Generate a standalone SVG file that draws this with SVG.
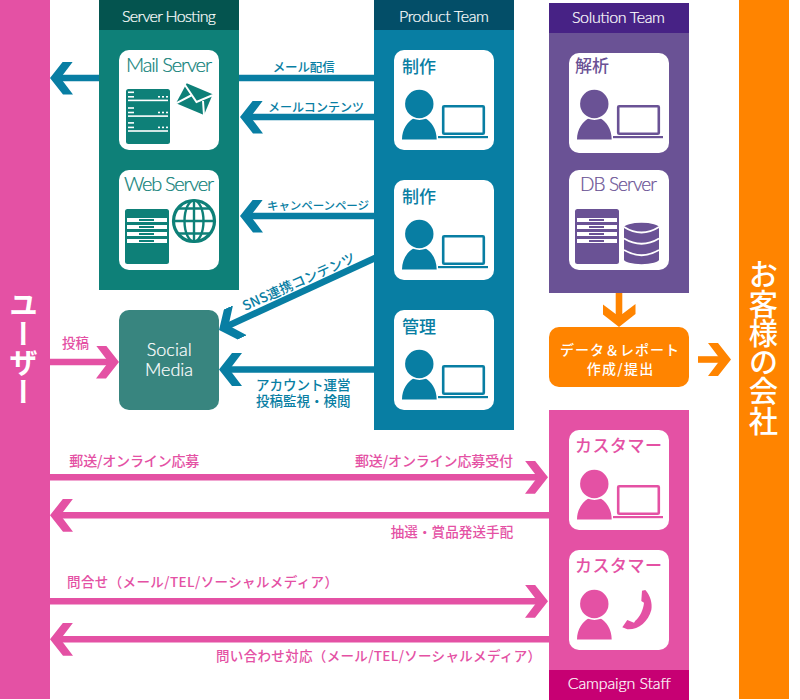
<svg xmlns="http://www.w3.org/2000/svg" width="800" height="700" viewBox="0 0 800 700">
  <style>
    text { font-family: "Noto Sans CJK JP", "Noto Sans", sans-serif; font-weight: 500; }
    .en { font-family: Lato, "Noto Sans", sans-serif; font-weight: 300; stroke: currentColor; stroke-width: 0.22px; }
    .head { font-size: 16px; fill: #fff; color: #fff; }
    .cap { font-size: 20px; }
    .job { font-size: 17px; }
    .lab { font-size: 12px; }
    .lab-lg { font-size: 13.5px; }
    .white { fill: #fff; color: #fff; }
    .card { fill: #fff; }
    .blue { color: #087ea3; fill: #087ea3; }
    .teal { color: #0e8078; fill: #0e8078; }
    .purple { color: #6a5295; fill: #6a5295; }
    .pink { color: #e451a4; fill: #e451a4; }
    .orange { color: #ff8400; fill: #ff8400; }
    .wire { stroke-width: 6.6; fill: none; }
    .wire-blue { stroke: #087ea3; marker-end: url(#tip-blue); }
    .wire-pink { stroke: #e451a4; marker-end: url(#tip-pink); }
    .wire-orange { stroke: #ff8400; marker-end: url(#tip-orange); }
  </style>
  <defs>
    <marker id="tip-blue" viewBox="0 0 24 33" refX="14" refY="16.5" markerWidth="24" markerHeight="33" markerUnits="userSpaceOnUse" orient="auto">
      <path d="M24,16.5 11,33H1L13.5,16.5 1,0H11Z" fill="#087ea3"/>
    </marker>
    <marker id="tip-pink" viewBox="0 0 24 33" refX="14" refY="16.5" markerWidth="24" markerHeight="33" markerUnits="userSpaceOnUse" orient="auto">
      <path d="M24,16.5 11,33H1L13.5,16.5 1,0H11Z" fill="#e451a4"/>
    </marker>
    <marker id="tip-orange" viewBox="0 0 24 33" refX="14" refY="16.5" markerWidth="24" markerHeight="33" markerUnits="userSpaceOnUse" orient="auto">
      <path d="M24,16.5 11,33H1L13.5,16.5 1,0H11Z" fill="#ff8400"/>
    </marker>
    <!-- Figure seen from the front, drawn relative to its card corner -->
    <g id="person">
      <circle cx="25.3" cy="54" r="14.2" fill="currentColor"/>
      <path d="M8,89.5C8,79 14,71.500 19,68.800Q25.300,71 32,68.800C37,71.500 42.700,79 42.700,89.500Z" fill="currentColor"/>
    </g>
    <g id="laptop">
      <rect x="49.2" y="56.2" width="40.6" height="27.6" rx="1" fill="none" stroke="currentColor" stroke-width="2.6"/>
      <rect x="44" y="86" width="50" height="2.2" fill="currentColor"/>
    </g>
    <!-- Rack with four drive bays -->
    <g id="rack">
      <rect x="0" y="0" width="44" height="55" rx="2.5" fill="currentColor"/>
      <g fill="#fff">
        <rect x="2" y="9" width="40" height="4"/>
        <rect x="2" y="16" width="40" height="4"/>
        <rect x="2" y="23" width="40" height="4"/>
        <rect x="2" y="30" width="40" height="4"/>
      </g>
      <g fill="currentColor">
        <rect x="14" y="10" width="15" height="2"/>
        <rect x="14" y="17" width="15" height="2"/>
        <rect x="14" y="24" width="15" height="2"/>
        <rect x="14" y="31" width="15" height="2"/>
      </g>
    </g>
    <g id="server-row" fill="#fff">
      <rect x="128" y="91.5" width="6" height="1.6"/>
      <rect x="128" y="96" width="6" height="1.6"/>
      <rect x="158" y="96" width="2" height="1.6"/>
      <rect x="162" y="96" width="2" height="1.6"/>
      <rect x="166" y="96" width="2" height="1.6"/>
      <rect x="128" y="99.6" width="40" height="1.6"/>
    </g>
  </defs>

  <g id="connectors">
    <line class="wire wire-blue" x1="380" y1="78" x2="60" y2="78"/>
    <line class="wire wire-blue" x1="380" y1="117" x2="250" y2="117"/>
    <line class="wire wire-blue" x1="380" y1="216" x2="250" y2="216"/>
    <line class="wire wire-blue" x1="380" y1="255.7" x2="228.1" y2="325.8"/>
    <line class="wire wire-blue" x1="380" y1="369.5" x2="229" y2="369.5"/>
    <line class="wire wire-pink" x1="45" y1="362" x2="109" y2="362"/>
    <line class="wire wire-orange" x1="619" y1="290" x2="619" y2="317"/>
    <line class="wire wire-orange" x1="698" y1="359.5" x2="721" y2="359.5"/>
    <line class="wire wire-pink" x1="45" y1="477.3" x2="538" y2="477.3"/>
    <line class="wire wire-pink" x1="555" y1="515.3" x2="60" y2="515.3"/>
    <line class="wire wire-pink" x1="45" y1="601.3" x2="538" y2="601.3"/>
    <line class="wire wire-pink" x1="555" y1="639.3" x2="60" y2="639.3"/>
  </g>

  <g id="connector-labels">
    <text class="lab blue" x="272.7" y="71.5" textLength="62" style="font-size:12.5px">メール配信</text>
    <text class="lab blue" x="268" y="111.5" textLength="96">メールコンテンツ</text>
    <text class="lab blue" x="267" y="210" textLength="102" style="font-size:11.5px">キャンペーンページ</text>
    <text class="lab blue" transform="translate(245 311) rotate(-24)" textLength="122" style="font-size:13.5px">SNS連携コンテンツ</text>
    <text class="lab-lg blue"><tspan x="256" y="390">アカウント運営</tspan><tspan x="256" y="406">投稿監視・検閲</tspan></text>
    <text class="lab-lg pink" x="62" y="347.5" textLength="27">投稿</text>
    <text class="lab-lg pink" x="69.3" y="465.7" textLength="130" style="font-size:14px">郵送/オンライン応募</text>
    <text class="lab-lg pink" x="355" y="465.7" textLength="158" style="font-size:14px">郵送/オンライン応募受付</text>
    <text class="lab-lg pink" x="390.7" y="537" textLength="122.5">抽選・賞品発送手配</text>
    <text class="lab-lg pink" x="67" y="586.7" textLength="271">問合せ（メール/TEL/ソーシャルメディア）</text>
    <text class="lab-lg pink" x="216" y="660.7" textLength="325">問い合わせ対応（メール/TEL/ソーシャルメディア）</text>
  </g>

  <g id="users">
    <rect x="0" y="0" width="50" height="699" class="pink"/>
    <text x="23.5" y="290" class="white" font-size="29" style="writing-mode: vertical-rl; font-weight: 700">ユーザー</text>
  </g>

  <g id="server-hosting">
    <rect x="99" y="0" width="140" height="290" class="teal"/>
    <rect x="99" y="0" width="140" height="30" fill="#04544f"/>
    <text class="en head" x="122" y="22" textLength="94">Server Hosting</text>
  </g>

  <g id="mail-server">
    <rect class="card" x="119" y="50" width="100" height="100" rx="10"/>
    <text class="en cap teal" x="126" y="72" textLength="86">Mail Server</text>
    <rect x="126" y="89" width="44" height="55" rx="2.5" class="teal"/>
    <use href="#server-row"/>
    <use href="#server-row" y="15.7"/>
    <use href="#server-row" y="30.6"/>
    <path d="M186.7,83.3 212.7,94.3 204,115 176,103.3Z" class="teal"/>
    <path d="M185,85 196.5,102 213,95M176,103.3 192,95M204,115 203,101" fill="none" stroke="#fff" stroke-width="2"/>
  </g>

  <g id="web-server">
    <rect class="card" x="119" y="170" width="100" height="100" rx="10"/>
    <text class="en cap teal" x="124" y="191" textLength="90">Web Server</text>
    <use href="#rack" x="125" y="209" class="teal"/>
    <g fill="none" stroke="#0e8078" stroke-width="2.4">
      <circle cx="194" cy="221" r="20.5" stroke-width="3.2"/>
      <ellipse cx="194" cy="221" rx="9.5" ry="20.5"/>
      <line x1="194" y1="200" x2="194" y2="242"/>
      <line x1="173" y1="221" x2="215" y2="221"/>
      <path d="M178,208.5H210M178,233.5H210"/>
    </g>
  </g>

  <g id="product-team">
    <rect x="374" y="0" width="140" height="430" class="blue"/>
    <rect x="374" y="0" width="140" height="30" fill="#034e68"/>
    <text class="en head" x="399" y="22" textLength="90">Product Team</text>
  </g>
  <g id="production-mail" class="blue">
    <rect class="card" x="394" y="50" width="100" height="100" rx="10"/>
    <text class="job" x="402" y="73" textLength="34">制作</text>
    <use href="#person" x="394" y="50"/>
    <use href="#laptop" x="394" y="50"/>
  </g>
  <g id="production-web" class="blue">
    <rect class="card" x="394" y="180" width="100" height="100" rx="10"/>
    <text class="job" x="402" y="203" textLength="34">制作</text>
    <use href="#person" x="394" y="180"/>
    <use href="#laptop" x="394" y="180"/>
  </g>
  <g id="management" class="blue">
    <rect class="card" x="394" y="310" width="100" height="100" rx="10"/>
    <text class="job" x="402" y="333" textLength="34">管理</text>
    <use href="#person" x="394" y="310"/>
    <use href="#laptop" x="394" y="310"/>
  </g>

  <g id="social-media">
    <rect x="119" y="310" width="100" height="100" rx="10" fill="#38857f"/>
    <text class="en white" font-size="18" x="146.7" y="355.7" textLength="45">Social</text>
    <text class="en white" font-size="18" x="145" y="375.7" textLength="48">Media</text>
  </g>

  <g id="solution-team">
    <rect x="549" y="3" width="140" height="290" class="purple"/>
    <rect x="549" y="3" width="140" height="30" fill="#472285"/>
    <text class="en head" x="572" y="23" textLength="93">Solution Team</text>
  </g>
  <g id="analysis" class="purple">
    <rect class="card" x="569" y="53" width="100" height="100" rx="10"/>
    <text class="job" x="575" y="72" textLength="34">解析</text>
    <use href="#person" x="569" y="50"/>
    <use href="#laptop" x="569" y="50"/>
  </g>
  <g id="db-server" class="purple">
    <rect class="card" x="569" y="170" width="100" height="100" rx="10"/>
    <text class="en cap" x="580" y="191" textLength="77" style="font-size:19px">DB Server</text>
    <use href="#rack" x="575" y="209"/>
    <path d="M624,227.5A17.5,4.7 0 0 1 659,227.5V259.5A17.5,4.7 0 0 1 624,259.5Z" fill="currentColor"/>
    <path d="M624,227Q641.5,238 659,227M624,238.5Q641.5,249 659,238.5M624,250Q641.5,260.500 659,250" fill="none" stroke="#fff" stroke-width="1.8"/>
  </g>

  <g id="report">
    <rect x="549" y="327" width="140" height="60" rx="10" class="orange"/>
    <text class="white" font-size="14" x="560" y="354.7" textLength="119">データ＆レポート</text>
    <text class="white" font-size="14" x="586.7" y="374" textLength="66.500">作成/提出</text>
  </g>

  <g id="client-company">
    <rect x="739" y="0" width="50" height="699" class="orange"/>
    <text x="763.5" y="259.5" class="white" font-size="29.3" style="writing-mode: vertical-rl">お客様の会社</text>
  </g>

  <g id="campaign-staff">
    <rect x="549" y="410" width="140" height="260" class="pink"/>
    <rect x="549" y="670" width="140" height="30" fill="#c70073"/>
    <text class="en white" font-size="16" x="567.700" y="689" textLength="103">Campaign Staff</text>
  </g>
  <g id="customer-web" class="pink">
    <rect class="card" x="569" y="430" width="100" height="100" rx="10"/>
    <text class="job" x="575" y="452" textLength="87">カスタマー</text>
    <use href="#person" x="569" y="430"/>
    <use href="#laptop" x="569" y="430"/>
  </g>
  <g id="customer-phone" class="pink">
    <rect class="card" x="569" y="550" width="100" height="100" rx="10"/>
    <text class="job" x="575" y="572" textLength="87">カスタマー</text>
    <use href="#person" x="569" y="550"/>
    <path d="M642,590.700 645.300,590C650,595 652.700,603.300 651.300,610C648.300,621.700 638.300,630 627.300,629.300L622.300,627.300 627.300,620 634,622.700 635.300,620.700C640,616.700 643.300,610 644,602.700L641.300,601Z" fill="currentColor"/>
  </g>
</svg>
